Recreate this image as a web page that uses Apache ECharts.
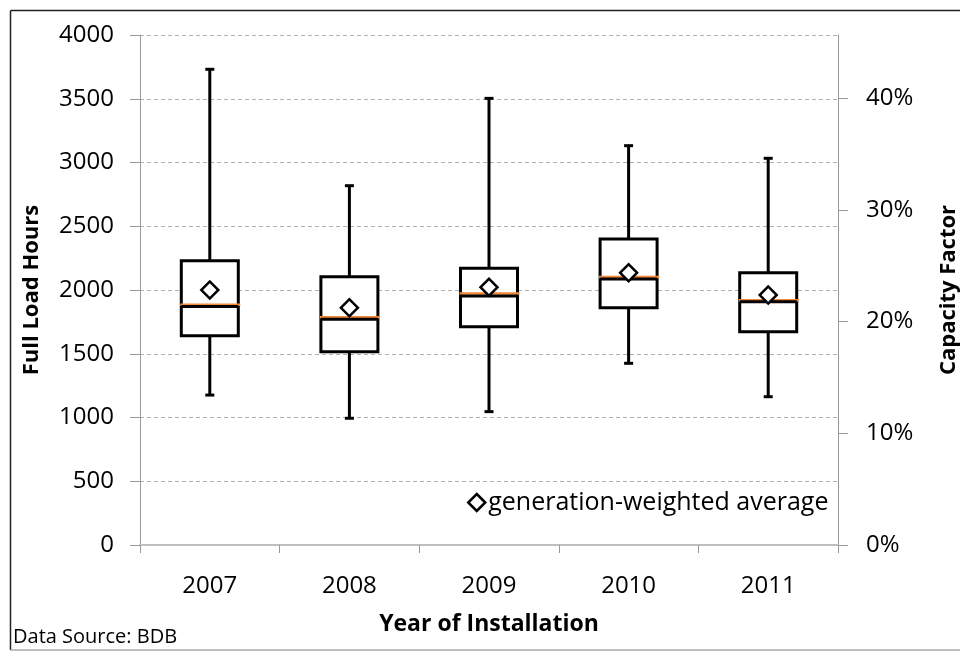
<!DOCTYPE html>
<html>
<head>
<meta charset="utf-8">
<script src="https://cdn.jsdelivr.net/npm/echarts@6/dist/echarts.min.js"></script>
<style>
  html, body { margin: 0; padding: 0; background: #fff; }
  #main { width: 960px; height: 652px; }
</style>
</head>
<body>
<div id="main"></div>
<script>
const chartDom = document.getElementById("main");
const myChart = echarts.init(chartDom);

// data (full load hours)
const years = ["2007", "2008", "2009", "2010", "2011"];
const whiskerLow = [1176, 994, 1046, 1425, 1163];
const boxLow = [1642, 1516, 1712, 1861, 1673];
const medians = [1870, 1770, 1953, 2086, 1908];
const orangeLine = [1884, 1786, 1972, 2102, 1920];
const boxHigh = [2230, 2104, 2170, 2400, 2136];
const whiskerHigh = [3731, 2818, 3503, 3132, 3033];
const weightedAvg = [2000, 1861, 2021, 2136, 1961];
const hoursPerYear = 8760;

const font = "Open Sans";
let option;

let boxData = [];
let avgData = [];
for (let i = 0; i < years.length; i++) {
  boxData.push([i, whiskerLow[i], boxLow[i], medians[i], boxHigh[i], whiskerHigh[i], orangeLine[i]]);
  avgData.push([i, weightedAvg[i]]);
}

function renderBox(params, api) {
  const i = api.value(0);
  const low = api.coord([i, api.value(1)]);
  const q1 = api.coord([i, api.value(2)]);
  const med = api.coord([i, api.value(3)]);
  const q3 = api.coord([i, api.value(4)]);
  const high = api.coord([i, api.value(5)]);
  const orange = api.coord([i, api.value(6)]);
  const x = low[0];
  const half = 28.5;
  const cap = 4.5;
  const lineStyle = { stroke: "#000", lineWidth: 3, fill: null };
  return {
    type: "group",
    children: [
      { type: "line", shape: { x1: x, y1: high[1], x2: x, y2: q3[1] }, style: lineStyle },
      { type: "line", shape: { x1: x, y1: q1[1], x2: x, y2: low[1] }, style: lineStyle },
      { type: "line", shape: { x1: x - cap, y1: high[1], x2: x + cap, y2: high[1] }, style: lineStyle },
      { type: "line", shape: { x1: x - cap, y1: low[1], x2: x + cap, y2: low[1] }, style: lineStyle },
      {
        type: "rect",
        shape: { x: x - half, y: q3[1], width: half * 2, height: q1[1] - q3[1] },
        style: { stroke: "#000", lineWidth: 3, fill: "#fff" },
      },
      {
        type: "line",
        shape: { x1: x - half - 1, y1: orange[1], x2: x + half + 2, y2: orange[1] },
        style: { stroke: "#F0883A", lineWidth: 2.5 },
      },
      { type: "line", shape: { x1: x - half, y1: med[1], x2: x + half, y2: med[1] }, style: lineStyle },
    ],
  };
}

option = {
  animation: false,
  backgroundColor: "#fff",
  textStyle: { fontFamily: font, color: "#000" },
  grid: { left: 140, right: 122, top: 35, bottom: 107, outerBoundsMode: "none", containLabel: false },
  legend: {
    data: ["generation-weighted average"],
    left: 462,
    top: 485,
    icon: "path://M5,0 L10,5 L5,10 L0,5 Z",
    itemWidth: 17,
    itemHeight: 17,
    itemGap: 6,
    itemStyle: { color: "#fff", borderColor: "#000", borderWidth: 2.5 },
    textStyle: { fontFamily: font, fontSize: 25, color: "#000", padding: [0, 0, 0, -2] },
  },
  xAxis: {
    type: "category",
    data: years,
    boundaryGap: true,
    name: "Year of Installation",
    nameLocation: "middle",
    nameGap: 68,
    nameTextStyle: { fontFamily: font, fontSize: 23, fontWeight: "bold", color: "#000" },
    axisLine: { lineStyle: { color: "#bfbfbf", width: 2 } },
    axisTick: { show: true, interval: 0, length: 8, lineStyle: { color: "#999" } },
    axisLabel: { fontFamily: font, fontSize: 24, color: "#000", margin: 29 },
  },
  yAxis: [
    {
      type: "value",
      min: 0,
      max: 4000,
      interval: 500,
      name: "Full Load Hours",
      nameLocation: "middle",
      nameGap: 97,
      nameMoveOverlap: false,
      nameTextStyle: { fontFamily: font, fontSize: 22, fontWeight: "bold", color: "#000" },
      axisLine: { show: true, lineStyle: { color: "#999" } },
      axisTick: { show: true, length: 10, lineStyle: { color: "#999" } },
      axisLabel: { fontFamily: font, fontSize: 24, color: "#000", margin: 26, formatter: (v) => String(v) },
      splitLine: { show: true, lineStyle: { color: "#b0b0b0", type: [4, 3] } },
    },
    {
      type: "value",
      min: 0,
      max: 4000 / hoursPerYear,
      interval: 0.1,
      name: "Capacity Factor",
      nameLocation: "middle",
      nameGap: 100,
      nameMoveOverlap: false,
      nameTextStyle: { fontFamily: font, fontSize: 22, fontWeight: "bold", color: "#000" },
      axisLine: { show: true, lineStyle: { color: "#999" } },
      axisTick: { show: true, length: 10, lineStyle: { color: "#999" } },
      axisLabel: {
        fontFamily: font,
        fontSize: 24,
        color: "#000",
        margin: 28,
        showMaxLabel: false,
        formatter: (v) => Math.round(v * 100) + "%",
      },
      splitLine: { show: false },
    },
  ],
  series: [
    {
      name: "box",
      type: "custom",
      renderItem: renderBox,
      encode: { x: 0, y: [1, 2, 3, 4, 5] },
      data: boxData,
      z: 2,
    },
    {
      name: "generation-weighted average",
      type: "scatter",
      data: avgData,
      symbol: "rect",
      symbolRotate: 45,
      symbolSize: 12,
      itemStyle: { color: "#fff", borderColor: "#000", borderWidth: 2.5, opacity: 1 },
      z: 5,
    },
  ],
  graphic: [
    {
      type: "text",
      left: 13,
      top: 627,
      style: { text: "Data Source: BDB", fontFamily: font, fontSize: 20, fill: "#000" },
    },
    { type: "line", shape: { x1: 10.5, y1: 10.5, x2: 960, y2: 10.5 }, style: { stroke: "#222", lineWidth: 1.5 } },
    { type: "line", shape: { x1: 10.5, y1: 10.5, x2: 10.5, y2: 650 }, style: { stroke: "#222", lineWidth: 1.5 } },
    { type: "line", shape: { x1: 10.5, y1: 650, x2: 960, y2: 650 }, style: { stroke: "#aaa", lineWidth: 1.5 } },
  ],
};

option && myChart.setOption(option);
</script>
</body>
</html>
